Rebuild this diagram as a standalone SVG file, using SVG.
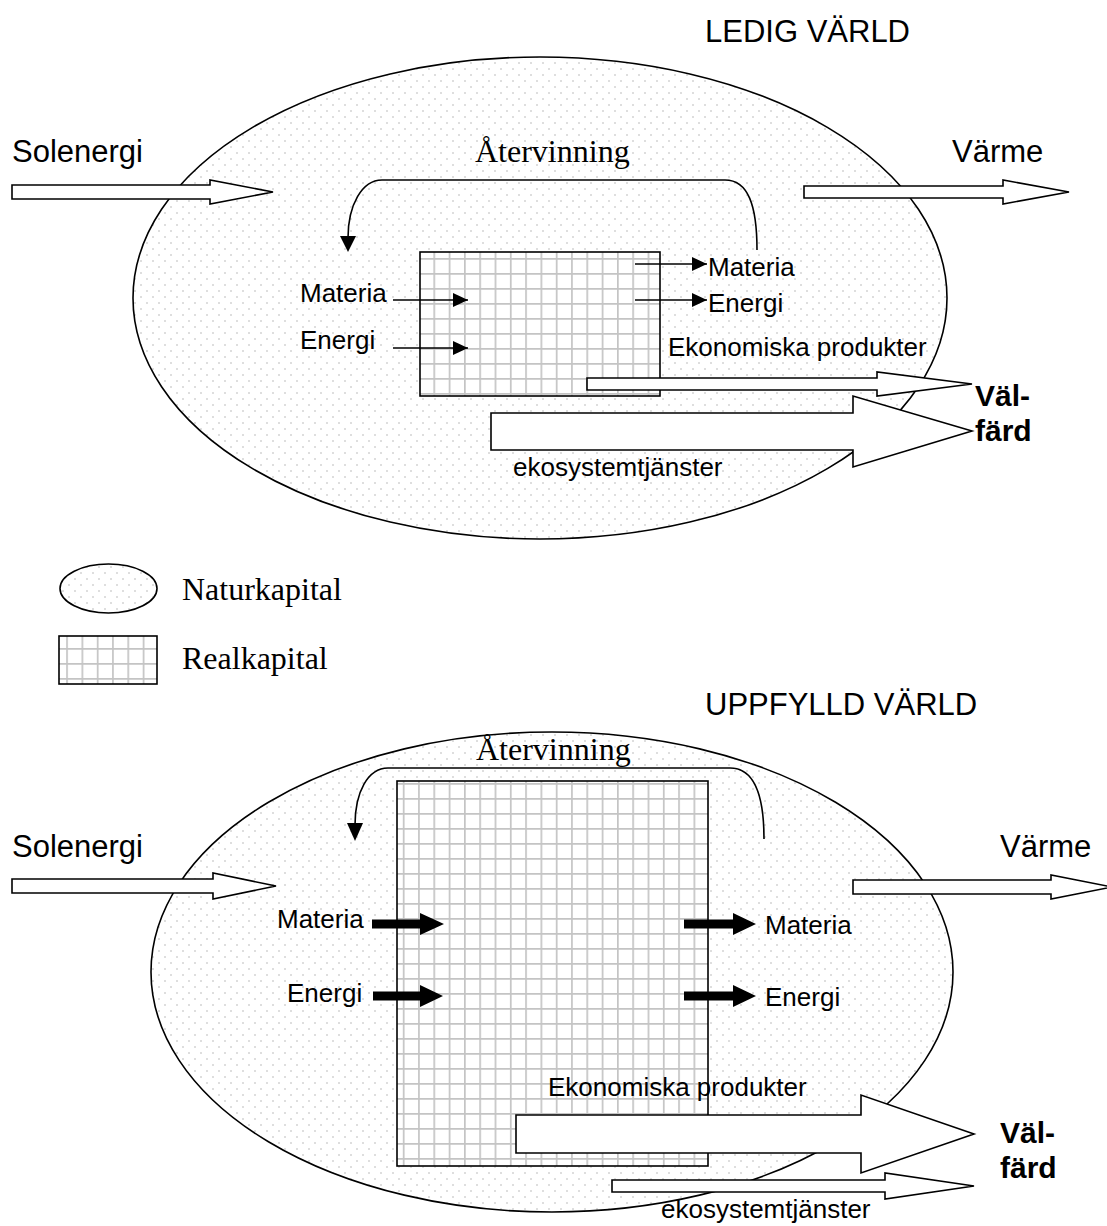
<svg xmlns="http://www.w3.org/2000/svg" width="1107" height="1226" viewBox="0 0 1107 1226">
<style>
.sans{font-family:"Liberation Sans",Arial,sans-serif;fill:#000}
.serif{font-family:"Liberation Serif","Times New Roman",serif;fill:#000}
.big{font-size:31px}
.mid{font-size:26px}
.ser{font-size:32px}
.bold{font-size:30px;font-weight:bold}
.nat{fill:url(#dots);stroke:#000;stroke-width:1.6}
.real{fill:url(#grid);stroke:#000;stroke-width:1.6}
.blk{fill:#fff;stroke:#000;stroke-width:1.6;stroke-linejoin:miter}
.thin{fill:none;stroke:#000;stroke-width:1.6}
.thick{fill:#000;stroke:none}
</style>
<defs>
<pattern id="dots" patternUnits="userSpaceOnUse" width="12" height="12">
<rect width="12" height="12" fill="#fff"/>
<circle cx="3" cy="3" r="0.8" fill="#b4b4b4"/>
<circle cx="9" cy="9" r="0.8" fill="#b4b4b4"/>
</pattern>
<pattern id="grid" patternUnits="userSpaceOnUse" width="15.3" height="15" x="5" y="3">
<rect width="15.3" height="15" fill="#fff"/>
<path d="M0.8,0 V15 M0,0.8 H15.3" stroke="#c4c4c4" stroke-width="1.8" fill="none"/>
</pattern>
<marker id="ah" markerWidth="16" markerHeight="14" refX="15" refY="7" orient="auto" markerUnits="userSpaceOnUse">
<path d="M0,0 L15,7 L0,14 Z" fill="#000"/>
</marker>
</defs>

<g id="top-world">
<g id="naturkapital-top"><ellipse class="nat" cx="540" cy="298" rx="407" ry="241"/></g>
<g id="realkapital-top"><rect class="real" x="420" y="252" width="240" height="144"/></g>
</g>

<g id="bottom-world">
<g id="naturkapital-bottom"><ellipse class="nat" cx="552" cy="972" rx="401" ry="240"/></g>
<g id="realkapital-bottom"><rect class="real" x="397" y="781" width="311" height="385"/></g>
</g>

<g id="legend">
<g id="legend-natur"><ellipse class="nat" cx="108.5" cy="588.5" rx="48.5" ry="24.5"/></g>
<g id="legend-real"><rect class="real" x="59" y="636" width="98" height="48"/></g>
</g>

<g id="connectors">
<!-- top -->
<polygon class="blk" points="12,185 210,185 210,180 273,192 210,204 210,199 12,199"/>
<polygon class="blk" points="804,186 1003,186 1003,180 1069,192 1003,204 1003,198 804,198"/>
<polygon class="blk" points="587,378 877,378 877,372 972,384 877,396 877,390 587,390"/>
<polygon class="blk" points="491,413 853,413 853,396 972,431 853,467 853,450 491,450"/>
<line class="thin" x1="393" y1="300" x2="468" y2="300" marker-end="url(#ah)"/>
<line class="thin" x1="393" y1="348" x2="468" y2="348" marker-end="url(#ah)"/>
<line class="thin" x1="635" y1="264" x2="707" y2="264" marker-end="url(#ah)"/>
<line class="thin" x1="635" y1="300" x2="707" y2="300" marker-end="url(#ah)"/>
<path class="thin" d="M757,250 C757,205 748,180 725,180 L382,180 C362,180 348,205 348,238"/>
<polygon class="thick" points="340,236 356,236 348,252"/>
<!-- bottom -->
<polygon class="blk" points="12,879 213,879 213,873 276,886 213,899 213,893 12,893"/>
<polygon class="blk" points="853,880 1051,880 1051,875 1112,887 1051,899 1051,894 853,894"/>
<polygon class="blk" points="516,1115 861,1115 861,1095 974,1134 861,1173 861,1153 516,1153"/>
<polygon class="blk" points="612,1180 885,1180 885,1173 974,1186 885,1199 885,1192 612,1192"/>
<path class="thin" d="M764,839 C764,790 752,768 730,768 L388,768 C368,768 355,792 355,825"/>
<polygon class="thick" points="347,823 363,823 355,841"/>
<polygon class="thick" points="372,919.5 420,919.5 420,913 444,924 420,935 420,928.5 372,928.5"/>
<polygon class="thick" points="373,991.5 420,991.5 420,985 443,996 420,1007 420,1000.5 373,1000.5"/>
<polygon class="thick" points="684,919.5 733,919.5 733,913 756,924 733,935 733,928.5 684,928.5"/>
<polygon class="thick" points="684,991.5 733,991.5 733,985 756,996 733,1007 733,1000.5 684,1000.5"/>
</g>

<g id="labels">
<text class="sans big" x="705" y="42">LEDIG VÄRLD</text>
<text class="sans big" x="12" y="162">Solenergi</text>
<text class="serif ser" x="475" y="162">Återvinning</text>
<text class="sans big" x="952" y="162">Värme</text>
<text class="sans mid" x="300" y="302">Materia</text>
<text class="sans mid" x="300" y="349">Energi</text>
<text class="sans mid" x="708" y="276">Materia</text>
<text class="sans mid" x="708" y="312">Energi</text>
<text class="sans mid" x="668" y="356">Ekonomiska produkter</text>
<text class="sans bold" x="975" y="406">Väl-</text>
<text class="sans bold" x="975" y="441">färd</text>
<text class="sans mid" x="513" y="476">ekosystemtjänster</text>
<text class="serif ser" x="182" y="600">Naturkapital</text>
<text class="serif ser" x="182" y="669">Realkapital</text>
<text class="sans big" x="705" y="715">UPPFYLLD VÄRLD</text>
<text class="serif ser" x="476" y="760">Återvinning</text>
<text class="sans big" x="12" y="857">Solenergi</text>
<text class="sans big" x="1000" y="857">Värme</text>
<text class="sans mid" x="277" y="928">Materia</text>
<text class="sans mid" x="287" y="1002">Energi</text>
<text class="sans mid" x="765" y="934">Materia</text>
<text class="sans mid" x="765" y="1006">Energi</text>
<text class="sans mid" x="548" y="1096">Ekonomiska produkter</text>
<text class="sans bold" x="1000" y="1143">Väl-</text>
<text class="sans bold" x="1000" y="1178">färd</text>
<text class="sans mid" x="661" y="1218">ekosystemtjänster</text>
</g>
</svg>
